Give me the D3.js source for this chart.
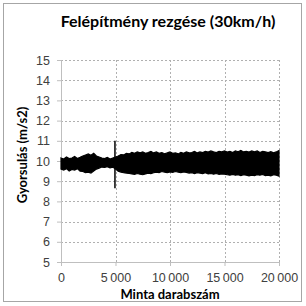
<!DOCTYPE html>
<html>
<head>
<meta charset="utf-8">
<script src="https://cdn.jsdelivr.net/npm/d3@7"></script>
<style>
  html, body { margin: 0; padding: 0; background: #fff; }
  svg { display: block; font-family: Lato, "Open Sans", sans-serif; }
</style>
</head>
<body>
<svg id="chart" width="306" height="306"></svg>
<script>
// envelope of the vibration signal, every 250 samples
const samples = d3.range(0, 20001, 250);
const upper = [10.15, 10.1, 10.2, 10.12, 10.15, 10.22, 10.12, 10.18, 10.25, 10.3,
               10.35, 10.28, 10.38, 10.25, 10.2, 10.15, 10.12, 10.18, 10.1, 10.15,
               10.2, 10.25, 10.32, 10.3, 10.38, 10.35, 10.42, 10.38, 10.45, 10.4,
               10.45, 10.38, 10.42, 10.48, 10.4, 10.45, 10.38, 10.42, 10.36, 10.4,
               10.45, 10.38, 10.4, 10.35, 10.42, 10.38, 10.45, 10.4, 10.42, 10.48,
               10.4, 10.45, 10.42, 10.48, 10.44, 10.5, 10.45, 10.42, 10.48, 10.45,
               10.5, 10.44, 10.48, 10.42, 10.5, 10.46, 10.52, 10.45, 10.48, 10.44,
               10.5, 10.46, 10.5, 10.42, 10.48, 10.45, 10.42, 10.46, 10.4, 10.45, 10.52];
const lower = [9.6, 9.55, 9.62, 9.5, 9.58, 9.55, 9.62, 9.5, 9.48, 9.42,
               9.45, 9.4, 9.5, 9.6, 9.65, 9.7, 9.68, 9.72, 9.66, 9.7,
               9.6, 9.5, 9.45, 9.42, 9.4, 9.38, 9.36, 9.34, 9.38, 9.35,
               9.32, 9.36, 9.4, 9.38, 9.42, 9.45, 9.43, 9.48, 9.45, 9.42,
               9.46, 9.44, 9.48, 9.45, 9.42, 9.46, 9.44, 9.4, 9.42, 9.38,
               9.42, 9.4, 9.38, 9.42, 9.36, 9.38, 9.35, 9.38, 9.34, 9.36,
               9.35, 9.32, 9.3, 9.34, 9.3, 9.32, 9.28, 9.32, 9.3, 9.26,
               9.3, 9.28, 9.32, 9.3, 9.34, 9.28, 9.3, 9.26, 9.32, 9.3, 9.25];
// single impulse near sample 5000
const spike = { sample: 4950, min: 8.65, max: 11.0 };

const xTicks = [0, 5000, 10000, 15000, 20000];
const yTicks = [5, 6, 7, 8, 9, 10, 11, 12, 13, 14, 15];

const svg = d3.select("#chart");

// outer chart border
svg.append("rect")
  .attr("x", 3.5).attr("y", 3.5)
  .attr("width", 298).attr("height", 298)
  .attr("fill", "#fff")
  .attr("stroke", "#a6a6a6");

const margin = { top: 60, right: 27, bottom: 44, left: 61 };
const width = 306 - margin.left - margin.right;
const height = 306 - margin.top - margin.bottom;

const g = svg.append("g").attr("transform", `translate(${margin.left},${margin.top})`);

const x = d3.scaleLinear().domain([0, 20000]).range([0, width]);
const y = d3.scaleLinear().domain([5, 15]).range([height, 0]);

// dotted gridlines
g.append("g")
  .selectAll("line")
  .data(yTicks.slice(1))
  .join("line")
  .attr("x1", 0).attr("x2", width)
  .attr("y1", d => Math.round(y(d)) + 0.5).attr("y2", d => Math.round(y(d)) + 0.5)
  .attr("stroke", "#b0b0b0")
  .attr("stroke-dasharray", "2,2");

g.append("g")
  .selectAll("line")
  .data(xTicks.slice(1))
  .join("line")
  .attr("x1", d => Math.round(x(d)) + 0.5).attr("x2", d => Math.round(x(d)) + 0.5)
  .attr("y1", 0).attr("y2", height)
  .attr("stroke", "#b0b0b0")
  .attr("stroke-dasharray", "2,2");

// axes
const yAxis = g.append("g")
  .call(d3.axisLeft(y).tickValues(yTicks).tickSize(4).tickPadding(7))
  .call(s => s.select(".domain").attr("stroke", "#bfbfbf"))
  .call(s => s.selectAll(".tick line").attr("stroke", "#bfbfbf"));
yAxis.selectAll("text")
  .style("font-size", "12.5px")
  .style("fill", "#404040");

const fmt = d => d === 0 ? "0" : d3.format(",")(d).replace(",", "\u2009");
const xAxis = g.append("g")
  .attr("transform", `translate(0,${height})`)
  .call(d3.axisBottom(x).tickValues(xTicks).tickFormat(fmt).tickSize(4).tickPadding(7))
  .call(s => s.select(".domain").attr("stroke", "#bfbfbf"))
  .call(s => s.selectAll(".tick line").attr("stroke", "#bfbfbf"));
xAxis.selectAll("text")
  .style("font-size", "12.5px")
  .style("fill", "#404040");

// signal envelope
const band = samples.map((s, i) => ({ s, hi: upper[i], lo: lower[i] }));
g.append("path")
  .datum(band)
  .attr("d", d3.area().x(d => x(d.s)).y0(d => y(d.lo)).y1(d => y(d.hi)))
  .attr("fill", "#000")
  .attr("stroke", "#000")
  .attr("stroke-width", 1.2);

g.append("line")
  .attr("x1", x(spike.sample)).attr("x2", x(spike.sample))
  .attr("y1", y(spike.min)).attr("y2", y(spike.max))
  .attr("stroke", "#000")
  .attr("stroke-width", 1.5);

// titles
svg.append("text")
  .attr("x", 168).attr("y", 27)
  .attr("text-anchor", "middle")
  .style("font-size", "16px")
  .style("font-weight", "bold")
  .style("fill", "#000")
  .text("Felépítmény rezgése (30km/h)");

svg.append("text")
  .attr("x", 170).attr("y", 299)
  .attr("text-anchor", "middle")
  .style("font-size", "13px")
  .style("font-weight", "bold")
  .style("fill", "#000")
  .text("Minta darabszám");

svg.append("text")
  .attr("transform", "translate(27,155) rotate(-90)")
  .attr("text-anchor", "middle")
  .style("font-size", "13px")
  .style("font-weight", "bold")
  .style("fill", "#000")
  .text("Gyorsulás (m/s2)");
</script>
</body>
</html>
